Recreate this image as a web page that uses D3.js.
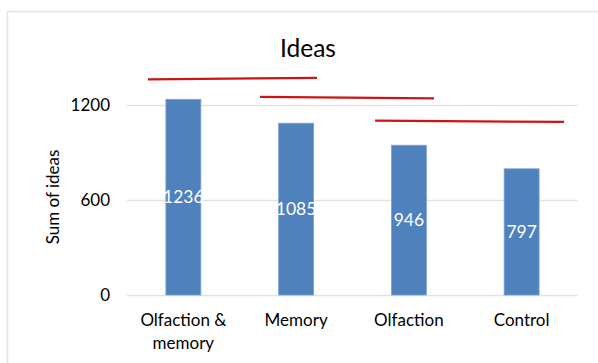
<!DOCTYPE html>
<html>
<head>
<meta charset="utf-8">
<script src="https://cdn.jsdelivr.net/npm/d3@7/dist/d3.min.js"></script>
<style>
  html, body { margin: 0; padding: 0; background: #fff; }
  svg { display: block; font-family: Lato, "Open Sans", sans-serif; }
</style>
</head>
<body>
<svg id="chart" width="598" height="363"></svg>
<script>
// ---- data ----
const title = "Ideas";
const yAxisTitle = "Sum of ideas";
const categories = [["Olfaction &", "memory"], ["Memory"], ["Olfaction"], ["Control"]];
const values = [1236, 1085, 946, 797];
const yTicks = [0, 600, 1200];
// hand-drawn red annotation lines: [x0 (band units), y0 (value), x1, y1]
const annoX0 = [0.186, 1.180, 2.200];
const annoY0 = [1362, 1251, 1101];
const annoX1 = [1.685, 2.723, 3.876];
const annoY1 = [1371, 1242, 1093];

// ---- layout ----
const svg = d3.select("#chart");
const W = 598, H = 363;
const plot = { left: 127, right: 578, top: 10, bottom: 295 };

// outer chart frame
svg.append("rect")
  .attr("x", 7.5).attr("y", 11.5)
  .attr("width", W).attr("height", H)
  .attr("fill", "none").attr("stroke", "#e3e3e3").attr("stroke-width", 1.5);

const idx = d3.range(categories.length);
const x = d3.scaleBand().domain(idx).range([plot.left, plot.right]).paddingInner(0.69).paddingOuter(0.345);
const xLin = d3.scaleLinear().domain([0, categories.length]).range([plot.left, plot.right]);
const y = d3.scaleLinear().domain([0, 1200]).range([plot.bottom, 105]);

// gridlines
svg.append("g").selectAll("line").data(yTicks).join("line")
  .attr("x1", plot.left).attr("x2", plot.right)
  .attr("y1", d => Math.round(y(d)) + 0.5).attr("y2", d => Math.round(y(d)) + 0.5)
  .attr("stroke", "#e2e2e2").attr("stroke-width", 1.5);

// y axis labels
const yAxis = d3.axisLeft(y).tickValues(yTicks).tickSize(0).tickPadding(0).tickFormat(d3.format("d"));
const gy = svg.append("g").attr("transform", `translate(110,0)`).call(yAxis);
gy.select(".domain").remove();
gy.selectAll("text").attr("font-size", 17).attr("fill", "#000").attr("font-family", "Lato, sans-serif").attr("dy", "0.35em");

// y axis title
svg.append("text")
  .attr("transform", `translate(59,${197}) rotate(-90)`)
  .attr("text-anchor", "middle")
  .attr("font-size", 17).attr("fill", "#000")
  .text(yAxisTitle);

// title
svg.append("text")
  .attr("x", 308).attr("y", 57)
  .attr("text-anchor", "middle")
  .attr("font-size", 24.5).attr("fill", "#000")
  .text(title);

// bars
svg.append("g").selectAll("rect").data(idx).join("rect")
  .attr("x", i => x(i))
  .attr("width", x.bandwidth())
  .attr("y", i => y(values[i]))
  .attr("height", i => y(0) - y(values[i]))
  .attr("fill", "#4f81bd")
  .attr("stroke", "#7ea1d3").attr("stroke-width", 0.8);

// value labels
svg.append("g").selectAll("text").data(idx).join("text")
  .attr("x", i => x(i) + x.bandwidth() / 2)
  .attr("y", i => (y(values[i]) + y(0)) / 2)
  .attr("dy", "0.35em")
  .attr("text-anchor", "middle")
  .attr("font-size", 17.5).attr("fill", "#fff")
  .text(i => values[i]);

// x category labels
const xl = svg.append("g").selectAll("text").data(idx).join("text")
  .attr("x", i => x(i) + x.bandwidth() / 2)
  .attr("y", 320)
  .attr("dy", "0.35em")
  .attr("text-anchor", "middle")
  .attr("font-size", 17).attr("fill", "#000");
xl.selectAll("tspan").data(i => categories[i]).join("tspan")
  .attr("x", function() { return d3.select(this.parentNode).attr("x"); })
  .attr("dy", (d, j) => j === 0 ? "0.35em" : 23)
  .text(d => d);

// red annotation lines
svg.append("g").selectAll("line").data(d3.range(annoX0.length)).join("line")
  .attr("x1", i => xLin(annoX0[i])).attr("y1", i => y(annoY0[i]))
  .attr("x2", i => xLin(annoX1[i])).attr("y2", i => y(annoY1[i]))
  .attr("stroke", "#cc1414").attr("stroke-width", 2.2);
</script>
</body>
</html>
